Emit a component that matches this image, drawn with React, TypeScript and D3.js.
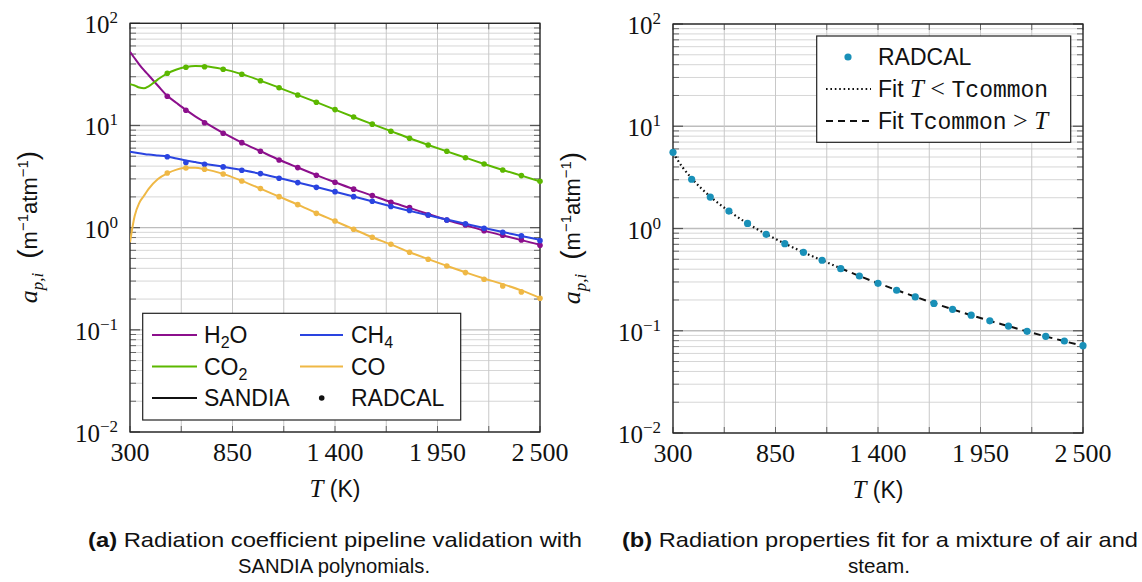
import React from "react";
import * as d3 from "d3";

// ---------- data ----------
const gridTemps = [300, 575, 850, 1125, 1400, 1675, 1950, 2225, 2500];
const labeledTemps = [300, 850, 1400, 1950, 2500];
const tempLabels = ["300", "850", "1\u2009400", "1\u2009950", "2\u2009500"];
const decadeExps = [-2, -1, 0, 1, 2];
const expLabels = ["\u22122", "\u22121", "0", "1", "2"];

// RADCAL points (left panel)
const radcalT = [500, 600, 700, 800, 900, 1000, 1100, 1200, 1300, 1400, 1500, 1600, 1700, 1800, 1900, 2000, 2100, 2200, 2300, 2400, 2500];
const h2oRadcal = [19.3, 14.1, 10.65, 8.39, 6.79, 5.59, 4.6, 3.87, 3.26, 2.78, 2.38, 2.06, 1.77, 1.57, 1.33, 1.19, 1.06, 0.935, 0.843, 0.759, 0.673];
const co2Radcal = [32.4, 37.1, 37.6, 35.5, 31.7, 27.4, 23.4, 19.9, 16.9, 14.3, 12.1, 10.3, 8.77, 7.5, 6.44, 5.59, 4.84, 4.2, 3.67, 3.23, 2.84];
const ch4Radcal = [4.95, 4.33, 4.17, 3.93, 3.65, 3.38, 3.04, 2.76, 2.48, 2.25, 2.01, 1.81, 1.61, 1.47, 1.33, 1.19, 1.09, 0.986, 0.9, 0.83, 0.746];
const coRadcal = [3.43, 3.84, 3.73, 3.35, 2.86, 2.41, 2.01, 1.68, 1.38, 1.16, 0.964, 0.805, 0.687, 0.574, 0.491, 0.422, 0.363, 0.313, 0.269, 0.235, 0.204];

// SANDIA polynomial curves (left panel)
const sandiaT = [300, 325, 350, 375, 400, 450, 500, 550, 600, 650, 700, 800, 900, 1000, 1100, 1200, 1300, 1400, 1500, 1600, 1700, 1800, 1900, 2000, 2100, 2200, 2300, 2400, 2500];
const h2oSandia = [52.7, 45.5, 39.5, 34.8, 31, 24.5, 19.5, 16.6, 14.2, 12.3, 10.8, 8.45, 6.8, 5.6, 4.62, 3.88, 3.27, 2.78, 2.38, 2.06, 1.78, 1.56, 1.36, 1.19, 1.055, 0.935, 0.84, 0.755, 0.68];
const co2Sandia = [25.3, 24.6, 23.5, 23.1, 24.2, 28.3, 32.4, 35.3, 37.3, 38.2, 38.0, 35.6, 31.8, 27.5, 23.4, 19.9, 16.9, 14.3, 12.1, 10.3, 8.8, 7.5, 6.45, 5.58, 4.84, 4.2, 3.67, 3.23, 2.84];
const ch4Sandia = [5.54, 5.45, 5.36, 5.27, 5.19, 5.08, 4.98, 4.75, 4.55, 4.38, 4.22, 3.95, 3.66, 3.37, 3.06, 2.77, 2.5, 2.25, 2.02, 1.81, 1.62, 1.46, 1.32, 1.2, 1.09, 0.99, 0.905, 0.83, 0.76];
const coSandia = [0.72, 1.3, 1.75, 2.05, 2.4, 3.0, 3.4, 3.7, 3.86, 3.86, 3.74, 3.36, 2.87, 2.41, 2.01, 1.68, 1.39, 1.16, 0.965, 0.805, 0.685, 0.575, 0.492, 0.423, 0.365, 0.318, 0.28, 0.243, 0.205];

// Right panel: air + steam mixture
const mixT = [300, 400, 500, 600, 700, 800, 900, 1000, 1100, 1200, 1300, 1400, 1500, 1600, 1700, 1800, 1900, 2000, 2100, 2200, 2300, 2400, 2500];
const mixRadcal = [5.56, 3.03, 2.03, 1.48, 1.12, 0.877, 0.711, 0.585, 0.489, 0.405, 0.343, 0.291, 0.249, 0.214, 0.185, 0.162, 0.142, 0.125, 0.111, 0.0988, 0.0883, 0.0794, 0.0714];
const fitLowT = [300, 350, 400, 500, 600, 700, 800, 900, 1000, 1100, 1200];
const fitLow = [5.5, 4.0, 3.1, 2.05, 1.48, 1.12, 0.88, 0.712, 0.585, 0.488, 0.408];
const fitHighT = [1200, 1300, 1400, 1500, 1600, 1700, 1800, 1900, 2000, 2100, 2200, 2300, 2400, 2500];
const fitHigh = [0.408, 0.343, 0.292, 0.25, 0.215, 0.186, 0.162, 0.142, 0.125, 0.111, 0.0985, 0.088, 0.079, 0.071];

// ---------- styles ----------
const C_H2O = "#8c0f8c";
const C_CO2 = "#5cb800";
const C_CH4 = "#2a44e0";
const C_CO = "#efb845";
const C_MIX = "#1990b8";
const SERIF = "'Liberation Serif', 'DejaVu Serif', serif";
const SANS = "'Liberation Sans', Arial, sans-serif";
const MONO = "'Liberation Mono', 'DejaVu Sans Mono', monospace";

type Sc = { x: d3.ScaleLinear<number, number>; y: d3.ScaleLogarithmic<number, number> };

function Frame({ x, y }: Sc) {
  const [xl, xr] = x.range();
  const [yb, yt] = y.range();
  const minor: number[] = [];
  const major: number[] = [];
  decadeExps.forEach((e) => {
    major.push(Math.pow(10, e));
    if (e < 2) for (let k = 2; k <= 9; k++) minor.push(k * Math.pow(10, e));
  });
  return (
    <g>
      {minor.map((v, i) => (
        <line key={"mn" + i} x1={xl} x2={xr} y1={y(v)} y2={y(v)} stroke="#d6d6d6" strokeWidth={1} />
      ))}
      {major.map((v, i) => (
        <line key={"mj" + i} x1={xl} x2={xr} y1={y(v)} y2={y(v)} stroke="#bdbdbd" strokeWidth={1.3} />
      ))}
      {gridTemps.map((t, i) => (
        <line key={"vx" + i} x1={x(t)} x2={x(t)} y1={yt} y2={yb} stroke="#c8c8c8" strokeWidth={1} />
      ))}
      {minor.map((v, i) => (
        <g key={"tmn" + i}>
          <line x1={xl} x2={xl + 6} y1={y(v)} y2={y(v)} stroke="#666" strokeWidth={1} />
          <line x1={xr} x2={xr - 6} y1={y(v)} y2={y(v)} stroke="#666" strokeWidth={1} />
        </g>
      ))}
      {major.map((v, i) => (
        <g key={"tmj" + i}>
          <line x1={xl} x2={xl + 10} y1={y(v)} y2={y(v)} stroke="#555" strokeWidth={1.2} />
          <line x1={xr} x2={xr - 10} y1={y(v)} y2={y(v)} stroke="#555" strokeWidth={1.2} />
        </g>
      ))}
      {gridTemps.map((t, i) => (
        <g key={"tx" + i}>
          <line x1={x(t)} x2={x(t)} y1={yb} y2={yb - 6} stroke="#666" strokeWidth={1} />
          <line x1={x(t)} x2={x(t)} y1={yt} y2={yt + 6} stroke="#666" strokeWidth={1} />
        </g>
      ))}
      <rect x={xl} y={yt} width={xr - xl} height={yb - yt} fill="none" stroke="#222" strokeWidth={1.3} />
      {decadeExps.map((e, i) => (
        <text key={"yl" + i} x={xl - 12} y={y(Math.pow(10, e)) + 10} textAnchor="end" fontFamily={SERIF} fontSize={25} fill="#111">
          10<tspan dy={-10} fontSize={17}>{expLabels[i]}</tspan>
        </text>
      ))}
      {labeledTemps.map((t, i) => (
        <text key={"xl" + i} x={x(t)} y={yb + 29} textAnchor="middle" fontFamily={SERIF} fontSize={26} fill="#111">
          {tempLabels[i]}
        </text>
      ))}
      <text x={(xl + xr) / 2} y={yb + 65} textAnchor="middle" fontSize={23} fill="#111">
        <tspan fontFamily={SERIF} fontStyle="italic" fontSize={25}>T</tspan>
        <tspan fontFamily={SANS}> (K)</tspan>
      </text>
    </g>
  );
}

function YLabel({ cx, cy }: { cx: number; cy: number }) {
  return (
    <text transform={`translate(${cx},${cy}) rotate(-90)`} textAnchor="middle" fill="#111" fontFamily={SANS} fontSize={22}>
      <tspan fontFamily={SERIF} fontStyle="italic" fontSize={26}>a</tspan>
      <tspan fontFamily={SERIF} fontStyle="italic" fontSize={17} dy={6}>p,i</tspan>
      <tspan dy={-6} fontSize={28}>{"\u2002("}</tspan>
      <tspan>m</tspan>
      <tspan fontSize={15} dy={-9}>{"\u22121"}</tspan>
      <tspan dy={9}>atm</tspan>
      <tspan fontSize={15} dy={-9}>{"\u22121"}</tspan>
      <tspan dy={9} fontSize={28}>)</tspan>
    </text>
  );
}

export default function App() {
  const xL = d3.scaleLinear().domain([300, 2500]).range([130, 540]);
  const yL = d3.scaleLog().domain([0.01, 100]).range([432, 23.3]);
  const xR = d3.scaleLinear().domain([300, 2500]).range([673, 1083]);
  const yR = d3.scaleLog().domain([0.01, 100]).range([433, 24]);

  const lineL = (vals: number[]) =>
    d3.line<number>().x((_, i) => xL(sandiaT[i])).y((v) => yL(v)).curve(d3.curveMonotoneX)(vals) || "";

  const leftSeries = [
    { name: "H2O", color: C_H2O, sandia: h2oSandia, radcal: h2oRadcal },
    { name: "CO2", color: C_CO2, sandia: co2Sandia, radcal: co2Radcal },
    { name: "CH4", color: C_CH4, sandia: ch4Sandia, radcal: ch4Radcal },
    { name: "CO", color: C_CO, sandia: coSandia, radcal: coRadcal },
  ];

  const fitLowPath =
    d3.line<number>().x((_, i) => xR(fitLowT[i])).y((v) => yR(v)).curve(d3.curveMonotoneX)(fitLow) || "";
  const fitHighPath =
    d3.line<number>().x((_, i) => xR(fitHighT[i])).y((v) => yR(v)).curve(d3.curveMonotoneX)(fitHigh) || "";

  const legRowsL = [335, 366.5, 398];
  const legRowsR = [57, 89, 121];

  return (
    <div style={{ position: "absolute", left: 0, top: 0 }}>
      <svg width={1142} height={582} viewBox="0 0 1142 582" style={{ display: "block", background: "#fff" }}>
        <defs>
          <clipPath id="clipL">
            <rect x={130} y={23.3} width={410} height={408.7} />
          </clipPath>
          <clipPath id="clipR">
            <rect x={673} y={24} width={410} height={409} />
          </clipPath>
        </defs>

        {/* ---------- left panel ---------- */}
        <Frame x={xL} y={yL} />
        <g clipPath="url(#clipL)">
          {leftSeries.map((s) => (
            <path key={s.name} d={lineL(s.sandia)} fill="none" stroke={s.color} strokeWidth={2} />
          ))}
        </g>
        {leftSeries.map((s) => (
          <g key={"p" + s.name}>
            {s.radcal.map((v, i) => (
              <circle key={i} cx={xL(radcalT[i])} cy={yL(v)} r={2.8} fill={s.color} />
            ))}
          </g>
        ))}
        <YLabel cx={37} cy={227} />

        {/* left legend */}
        <rect x={142.7} y={313.3} width={318} height={106.7} fill="#fff" stroke="#222" strokeWidth={1.2} />
        <g fontFamily={SANS} fontSize={23} fill="#111">
          <line x1={152} x2={197} y1={legRowsL[0]} y2={legRowsL[0]} stroke={C_H2O} strokeWidth={2} />
          <text x={204} y={legRowsL[0] + 8}>
            H<tspan fontSize={16} dy={5}>2</tspan>
            <tspan dy={-5}>O</tspan>
          </text>
          <line x1={300} x2={343} y1={legRowsL[0]} y2={legRowsL[0]} stroke={C_CH4} strokeWidth={2} />
          <text x={351} y={legRowsL[0] + 8}>
            CH<tspan fontSize={16} dy={5}>4</tspan>
          </text>
          <line x1={152} x2={197} y1={legRowsL[1]} y2={legRowsL[1]} stroke={C_CO2} strokeWidth={2} />
          <text x={204} y={legRowsL[1] + 8}>
            CO<tspan fontSize={16} dy={5}>2</tspan>
          </text>
          <line x1={300} x2={343} y1={legRowsL[1]} y2={legRowsL[1]} stroke={C_CO} strokeWidth={2} />
          <text x={351} y={legRowsL[1] + 8}>CO</text>
          <line x1={152} x2={197} y1={legRowsL[2]} y2={legRowsL[2]} stroke="#111" strokeWidth={2} />
          <text x={204} y={legRowsL[2] + 8}>SANDIA</text>
          <circle cx={321.7} cy={legRowsL[2]} r={2.8} fill="#111" />
          <text x={351} y={legRowsL[2] + 8}>RADCAL</text>
        </g>

        {/* ---------- right panel ---------- */}
        <Frame x={xR} y={yR} />
        <g clipPath="url(#clipR)">
          <path d={fitLowPath} fill="none" stroke="#111" strokeWidth={2.2} strokeDasharray="1.6 2.8" />
          <path d={fitHighPath} fill="none" stroke="#111" strokeWidth={2} strokeDasharray="7 5" />
        </g>
        {mixRadcal.map((v, i) => (
          <circle key={"m" + i} cx={xR(mixT[i])} cy={yR(v)} r={3.6} fill={C_MIX} />
        ))}
        <YLabel cx={580} cy={228} />

        {/* right legend */}
        <rect x={816.7} y={36} width={254} height={106.3} fill="#fff" stroke="#222" strokeWidth={1.2} />
        <g fontSize={23} fill="#111">
          <circle cx={848} cy={legRowsR[0]} r={3.6} fill={C_MIX} />
          <text x={878} y={legRowsR[0] + 8} fontFamily={SANS}>RADCAL</text>
          <line x1={826} x2={871} y1={legRowsR[1]} y2={legRowsR[1]} stroke="#111" strokeWidth={2.2} strokeDasharray="1.6 2.8" />
          <text x={878} y={legRowsR[1] + 8} fontFamily={SANS}>
            Fit <tspan fontFamily={SERIF} fontStyle="italic" fontSize={25}>T</tspan>
            <tspan fontFamily={SERIF} fontSize={26}>{" < "}</tspan>
            <tspan fontFamily={MONO} fontSize={23} fontWeight={300}>Tcommon</tspan>
          </text>
          <line x1={826} x2={871} y1={legRowsR[2]} y2={legRowsR[2]} stroke="#111" strokeWidth={2} strokeDasharray="7 5" />
          <text x={878} y={legRowsR[2] + 8} fontFamily={SANS}>
            Fit <tspan fontFamily={MONO} fontSize={23} fontWeight={300}>Tcommon</tspan>
            <tspan fontFamily={SERIF} fontSize={26}>{" > "}</tspan>
            <tspan fontFamily={SERIF} fontStyle="italic" fontSize={25}>T</tspan>
          </text>
        </g>

        {/* ---------- captions ---------- */}
        <g fontFamily={SANS} fontSize={21} fill="#111">
          <text x={335} y={547} textAnchor="middle" textLength={494} lengthAdjust="spacingAndGlyphs">
            <tspan fontWeight="bold">(a)</tspan> Radiation coefficient pipeline validation with
          </text>
          <text x={334} y={573} textAnchor="middle" textLength={192} lengthAdjust="spacingAndGlyphs">SANDIA polynomials.</text>
          <text x={880} y={547} textAnchor="middle" textLength={516} lengthAdjust="spacingAndGlyphs">
            <tspan fontWeight="bold">(b)</tspan> Radiation properties fit for a mixture of air and
          </text>
          <text x={879} y={573} textAnchor="middle" textLength={62} lengthAdjust="spacingAndGlyphs">steam.</text>
        </g>
      </svg>
    </div>
  );
}
